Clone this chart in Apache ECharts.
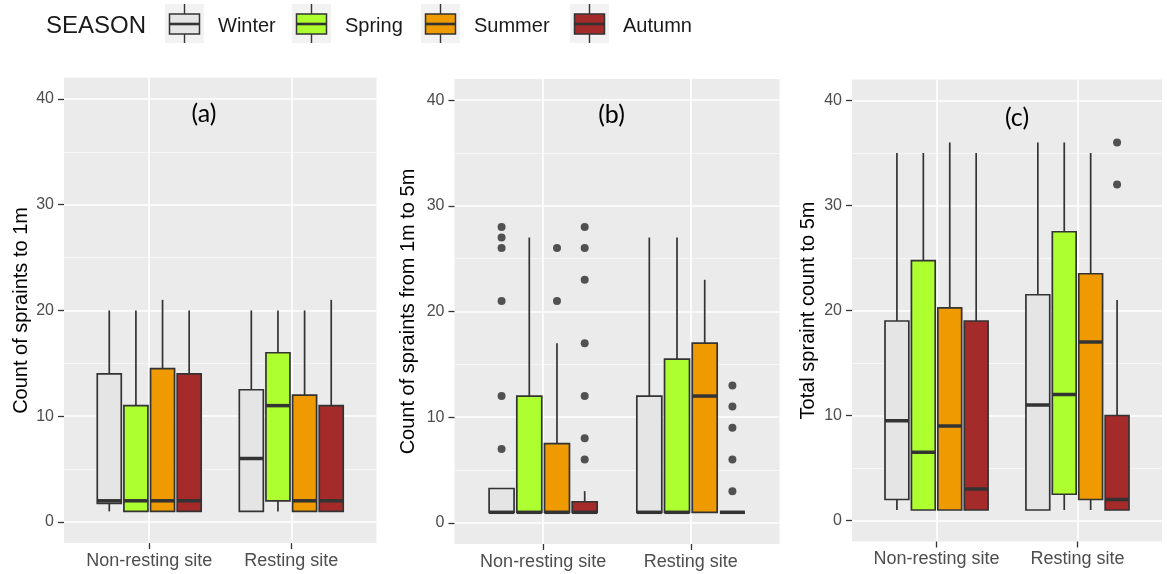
<!DOCTYPE html>
<html>
<head>
<meta charset="utf-8">
<script src="https://cdn.jsdelivr.net/npm/echarts@6/dist/echarts.min.js"></script>
<style>
  html, body { margin: 0; padding: 0; background: #ffffff; }
  #chart { width: 1167px; height: 574px; }
</style>
</head>
<body>
<div id="chart"></div>
<script>
// ---- data -------------------------------------------------------------
const sites = ['Non-resting site', 'Resting site'];
const seasons = ['Winter', 'Spring', 'Summer', 'Autumn'];
const seasonColors = ['#E5E5E5', '#ADFF2F', '#EE9A00', '#A52A2A'];
const yTicks = [0, 10, 20, 30, 40];
const yMinorTicks = [5, 15, 25, 35];

// Box statistics per site (rows) and season (columns):
// [lower whisker, Q1, median, Q3, upper whisker]
const spraintsTo1m = [
  [[1, 1.75, 2, 14, 20], [1, 1, 2, 11, 20], [1, 1, 2, 14.5, 21], [1, 1, 2, 14, 20]],
  [[1, 1, 6, 12.5, 20], [1, 2, 11, 16, 20], [1, 1, 2, 12, 20], [1, 1, 2, 11, 21]]
];
const spraints1to5m = [
  [[1, 1, 1, 3.25, 3.25], [1, 1, 1, 12, 27], [1, 1, 1, 7.5, 17], [1, 1, 1, 2, 3]],
  [[1, 1, 1, 12, 27], [1, 1, 1, 15.5, 27], [1, 1, 12, 17, 23], [1, 1, 1, 1, 1]]
];
const spraintsTotal5m = [
  [[1, 2, 9.5, 19, 35], [1, 1, 6.5, 24.75, 35], [1, 1, 9, 20.25, 36], [1, 1, 3, 19, 35]],
  [[1, 1, 11, 21.5, 36], [1, 2.5, 12, 27.5, 36], [1, 2, 17, 23.5, 35], [1, 1, 2, 10, 21]]
];

// Outlying observations: [site index, season index, value]
const outliersTo1m = [];
const outliers1to5m = [
  [0, 0, 7], [0, 0, 12], [0, 0, 21], [0, 0, 26], [0, 0, 27], [0, 0, 28],
  [0, 2, 21], [0, 2, 26],
  [0, 3, 6], [0, 3, 8], [0, 3, 12], [0, 3, 17], [0, 3, 23], [0, 3, 26], [0, 3, 28],
  [1, 3, 3], [1, 3, 6], [1, 3, 9], [1, 3, 11], [1, 3, 13]
];
const outliersTotal5m = [[1, 3, 32], [1, 3, 36]];

const panelTags = ['(a)', '(b)', '(c)'];
const yTitles = ['Count of spraints to 1m', 'Count of spraints from 1m to 5m', 'Total spraint count to 5m'];

// ---- layout -----------------------------------------------------------
const panelStats = [spraintsTo1m, spraints1to5m, spraintsTotal5m];
const panelOutliers = [outliersTo1m, outliers1to5m, outliersTotal5m];
const grids = [
  { left: 64, top: 77.8, width: 312.5, height: 465.3 },
  { left: 454.5, top: 79, width: 325, height: 465 },
  { left: 852, top: 79.5, width: 310, height: 462 }
];
const titleGaps = [33, 36, 33.5];
const tagPos = [[204, 114], [611.5, 115], [1017, 118]];

const DODGE = 0.1875;     // spacing between seasons within a site
const BOX_HALF = 0.0845;  // half box width, category units
const INK = '#333333';

function dodgeX(site, season) {
  return site + 1 + (season - 1.5) * DODGE;
}

function boxData(stats) {
  const rows = [];
  stats.forEach((siteRow, si) => {
    siteRow.forEach((s, k) => {
      rows.push([dodgeX(si, k), s[0], s[1], s[2], s[3], s[4], k]);
    });
  });
  return rows;
}

function outlierData(list) {
  return list.map(o => [dodgeX(o[0], o[1]), o[2]]);
}

function renderBox(params, api) {
  const x = api.value(0);
  const lo = api.value(1), q1 = api.value(2), med = api.value(3), q3 = api.value(4), hi = api.value(5);
  const fill = seasonColors[api.value(6)];
  const tl = api.coord([x - BOX_HALF, q3]);
  const br = api.coord([x + BOX_HALF, q1]);
  const pHi = api.coord([x, hi]);
  const pLo = api.coord([x, lo]);
  const pMed = api.coord([x, med]);
  const thin = { stroke: INK, lineWidth: 1.7 };
  return {
    type: 'group',
    children: [
      { type: 'line', shape: { x1: pHi[0], y1: pHi[1], x2: pHi[0], y2: tl[1] }, style: thin },
      { type: 'line', shape: { x1: pLo[0], y1: br[1], x2: pLo[0], y2: pLo[1] }, style: thin },
      { type: 'rect', shape: { x: tl[0], y: tl[1], width: br[0] - tl[0], height: br[1] - tl[1] },
        style: { fill: fill, stroke: INK, lineWidth: 1.7 } },
      { type: 'line', shape: { x1: tl[0], y1: pMed[1], x2: br[0], y2: pMed[1] },
        style: { stroke: INK, lineWidth: 3.5 } }
    ]
  };
}

const FONT = 'Liberation Sans, Arial, sans-serif';

const gridOpts = grids.map(g => Object.assign({
  show: true, backgroundColor: '#EBEBEB', borderWidth: 0, containLabel: false
}, g));

const xAxes = grids.map((g, i) => ({
  type: 'value', gridIndex: i, min: 0.4, max: 2.6,
  axisLine: { show: false, onZero: false },
  axisTick: { show: true, customValues: [1, 2], length: 6, lineStyle: { color: INK, width: 1.3 } },
  axisLabel: {
    customValues: [1, 2], formatter: v => sites[Math.round(v) - 1],
    color: '#4D4D4D', fontSize: 18, fontFamily: FONT, margin: 9
  },
  splitLine: { show: true, lineStyle: { color: '#FFFFFF', width: 1.6 } }
}));

const yMain = grids.map((g, i) => ({
  type: 'value', gridIndex: i, min: -2, max: 42, position: 'left',
  axisLine: { show: false, onZero: false },
  axisTick: { show: true, customValues: yTicks, length: 6, lineStyle: { color: INK, width: 1.3 } },
  axisLabel: { customValues: yTicks, color: '#4D4D4D', fontSize: 16, fontFamily: FONT, margin: 10 },
  splitLine: { show: true, lineStyle: { color: '#FFFFFF', width: 1.6 } },
  name: yTitles[i], nameLocation: 'middle', nameRotate: 90, nameGap: titleGaps[i],
  nameTextStyle: { color: '#000000', fontSize: 20, fontFamily: FONT }
}));

const yMinor = grids.map((g, i) => ({
  type: 'value', gridIndex: i, min: -2, max: 42, position: 'left',
  axisLine: { show: false, onZero: false },
  axisTick: { show: false, customValues: yMinorTicks },
  axisLabel: { show: false, customValues: yMinorTicks },
  splitLine: { show: true, lineStyle: { color: '#F6F6F6', width: 1 } }
}));

const series = [];
panelStats.forEach((stats, i) => {
  series.push({
    type: 'custom', xAxisIndex: i, yAxisIndex: i,
    renderItem: renderBox, data: boxData(stats),
    encode: { x: 0, y: [1, 2, 3, 4, 5] }, silent: true, z: 2
  });
  series.push({
    type: 'scatter', xAxisIndex: i, yAxisIndex: i,
    data: outlierData(panelOutliers[i]), symbolSize: 8,
    itemStyle: { color: '#2B2B2B' }, silent: true, z: 3
  });
});

// legend drawn as small boxplot glyphs
const legendKeyX = [165, 292, 421, 570];
const legendEls = [{
  type: 'text', x: 46, y: 26,
  style: { text: 'SEASON', font: '24px ' + FONT, fill: '#1A1A1A', verticalAlign: 'middle', align: 'left' }
}];
seasons.forEach((name, k) => {
  const x0 = legendKeyX[k];
  legendEls.push({ type: 'rect', shape: { x: x0, y: 4, width: 39, height: 39 }, style: { fill: '#F2F2F2' } });
  legendEls.push({ type: 'line', shape: { x1: x0 + 19.5, y1: 4, x2: x0 + 19.5, y2: 43 }, style: { stroke: INK, lineWidth: 1.4 } });
  legendEls.push({ type: 'rect', shape: { x: x0 + 4.5, y: 14, width: 30, height: 20 },
    style: { fill: seasonColors[k], stroke: INK, lineWidth: 1.5 } });
  legendEls.push({ type: 'line', shape: { x1: x0 + 4.5, y1: 24, x2: x0 + 34.5, y2: 24 }, style: { stroke: INK, lineWidth: 2.6 } });
  legendEls.push({ type: 'text', x: x0 + 53, y: 26,
    style: { text: name, font: '20px ' + FONT, fill: '#1A1A1A', verticalAlign: 'middle', align: 'left' } });
});

const tagEls = panelTags.map((t, i) => ({
  type: 'text', x: tagPos[i][0], y: tagPos[i][1],
  style: { text: t, font: '25px Lato, "Open Sans", sans-serif', fill: '#000000', align: 'center', verticalAlign: 'middle' },
  z: 10
}));

const chart = echarts.init(document.getElementById('chart'), null, { renderer: 'canvas' });
chart.setOption({
  animation: false,
  backgroundColor: '#FFFFFF',
  grid: gridOpts,
  xAxis: xAxes,
  yAxis: yMain.concat(yMinor),
  series: series,
  graphic: legendEls.concat(tagEls)
});
</script>
</body>
</html>
